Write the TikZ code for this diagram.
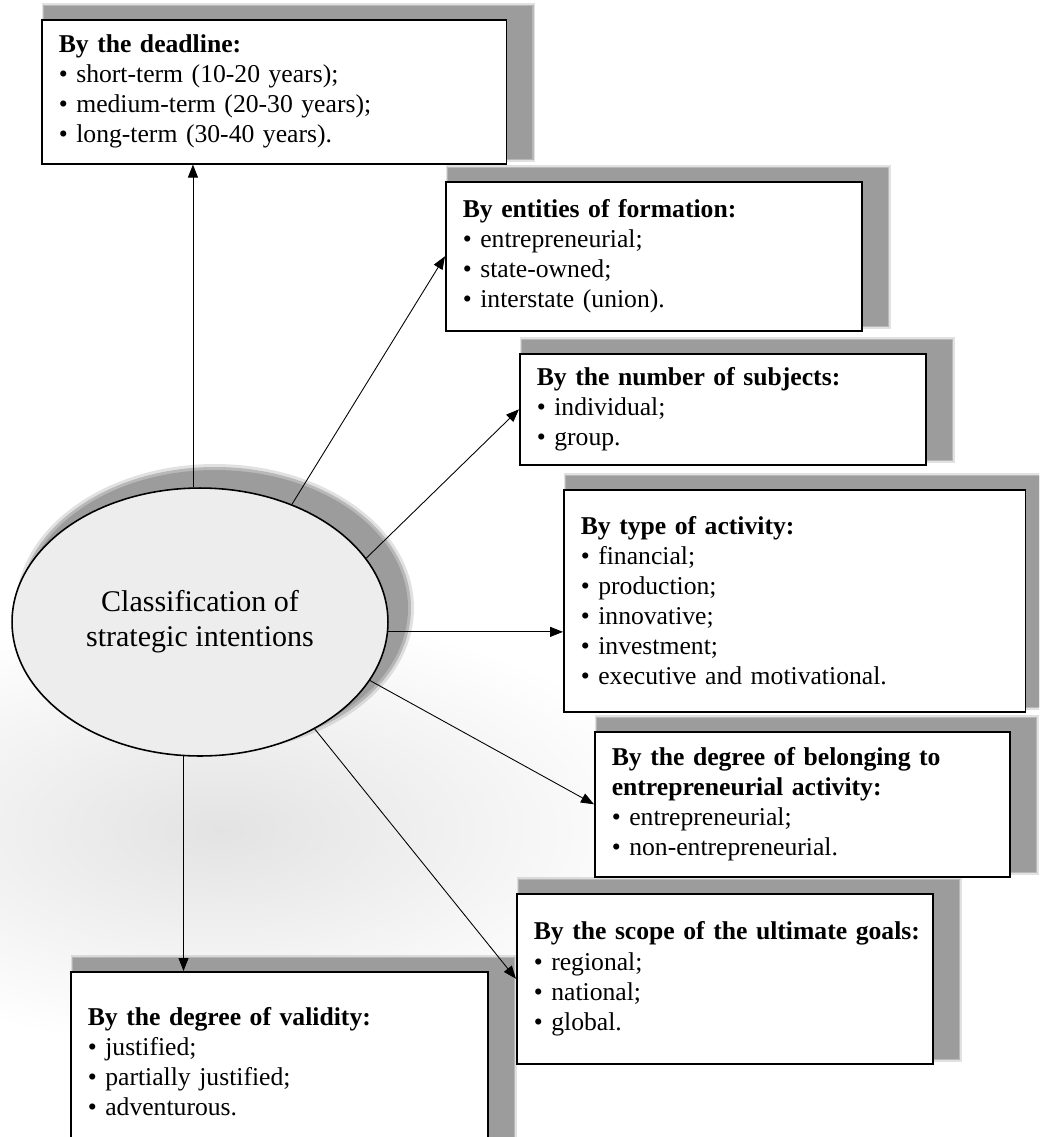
\documentclass[tikz,border=0pt]{standalone}
\usepackage{fontspec}
\setmainfont{Liberation Serif}
\usepackage{xcolor}
\usepackage{tikz}
\usetikzlibrary{shapes.geometric,arrows.meta,calc}
\pgfdeclarelayer{bg}
\pgfsetlayers{bg,main}
\definecolor{shadowgray}{RGB}{156,156,156}
\definecolor{ellfill}{RGB}{237,237,237}
\tikzstyle{arrow} = [line width=0.5pt,-{Triangle[length=0.26cm,width=0.2cm]}]
\tikzstyle{catbox} = [draw,line width=0.9pt,fill=white,anchor=north west,align=left,inner xsep=0.34cm,inner ysep=0pt,font=\fontsize{14.6pt}{17.1pt}\selectfont]

\begin{document}
\begin{tikzpicture}[x=0.02cm,y=-0.02cm]
            \useasboundingbox (0,0) rectangle (1039,1137);
            \clip (0,0) rectangle (1039,1137);
            % Centre
            \node[ellipse,draw,line width=0.9pt,fill=ellfill,minimum width=7.52cm,minimum height=5.36cm,inner sep=0pt,align=center,font=\fontsize{17.1pt}{19.9pt}\selectfont] (cls) at (200,622) {Classification of\\strategic intentions};
            % Boxes
            \node[catbox,text width=8.62cm,minimum height=2.88cm] (deadline) at (41,19) {\textbf{By the deadline:}\\• short-term (10-20 years);\\• medium-term (20-30 years);\\• long-term (30-40 years).};
            \node[catbox,text width=7.64cm,minimum height=2.98cm] (entities) at (445,181) {\textbf{By entities of formation:}\\• entrepreneurial;\\• state-owned;\\• interstate (union).};
            \node[catbox,text width=7.44cm,minimum height=2.22cm] (subjects) at (519,353) {\textbf{By the number of subjects:}\\• individual;\\• group.};
            \node[catbox,text width=8.56cm,minimum height=4.44cm] (activity) at (563,489) {\textbf{By type of activity:}\\• financial;\\• production;\\• innovative;\\• investment;\\• executive and motivational.};
            \node[catbox,text width=7.62cm,minimum height=2.90cm] (belonging) at (594,731) {\textbf{By the degree of belonging to}\\\textbf{entrepreneurial activity:}\\• entrepreneurial;\\• non-entrepreneurial.};
            \node[catbox,text width=7.64cm,minimum height=3.40cm] (scope) at (516,893) {\mbox{\textbf{By the scope of the ultimate goals:}}\\• regional;\\• national;\\• global.};
            \node[catbox,text width=7.66cm,minimum height=3.60cm] (validity) at (70,971) {\textbf{By the degree of validity:}\\• justified;\\• partially justified;\\• adventurous.};
            % edges
            \draw[arrow] (cls.93) -- (cls.93 |- deadline.south);
            \draw[arrow] (cls.52) -- (entities.west);
            \draw[arrow] (cls.21) -- (subjects.west);
            \draw[arrow] (cls.-3) -- (cls.-3 -| activity.west);
            \draw[arrow] (cls.-19) -- (belonging.west);
            \draw[arrow] (cls.-43) -- (scope.west);
            \draw[arrow] (cls.263) -- (cls.263 |- validity.north);
            % shadows
            \begin{pgfonlayer}{bg}
                \clip (0,0) rectangle (1039,1137);
                \shade[inner color=black!11,outer color=white] (220,830) ellipse [x radius=460,y radius=220];
                \fill[shadowgray,opacity=.3] ($(cls.center)+(15,-14)$) ellipse [x radius=199,y radius=144];
                \fill[shadowgray,opacity=.6] ($(cls.center)+(15,-14)$) ellipse [x radius=196,y radius=141];
                \fill[shadowgray] ($(cls.center)+(15,-14)$) ellipse [x radius=193,y radius=138];
                \foreach \b in {deadline,entities,subjects,activity,belonging,scope,validity}{
                    \fill[shadowgray,opacity=.3] ($(\b.north west)+(1,-16)$) rectangle ($(\b.south east)+(28,-3)$);
                    \fill[shadowgray,opacity=.6] ($(\b.north west)+(2,-14.5)$) rectangle ($(\b.south east)+(26.5,-4.5)$);
                    \fill[shadowgray] ($(\b.north west)+(3,-13)$) rectangle ($(\b.south east)+(25,-6)$);
                }
            \end{pgfonlayer}
\end{tikzpicture}
\end{document}
